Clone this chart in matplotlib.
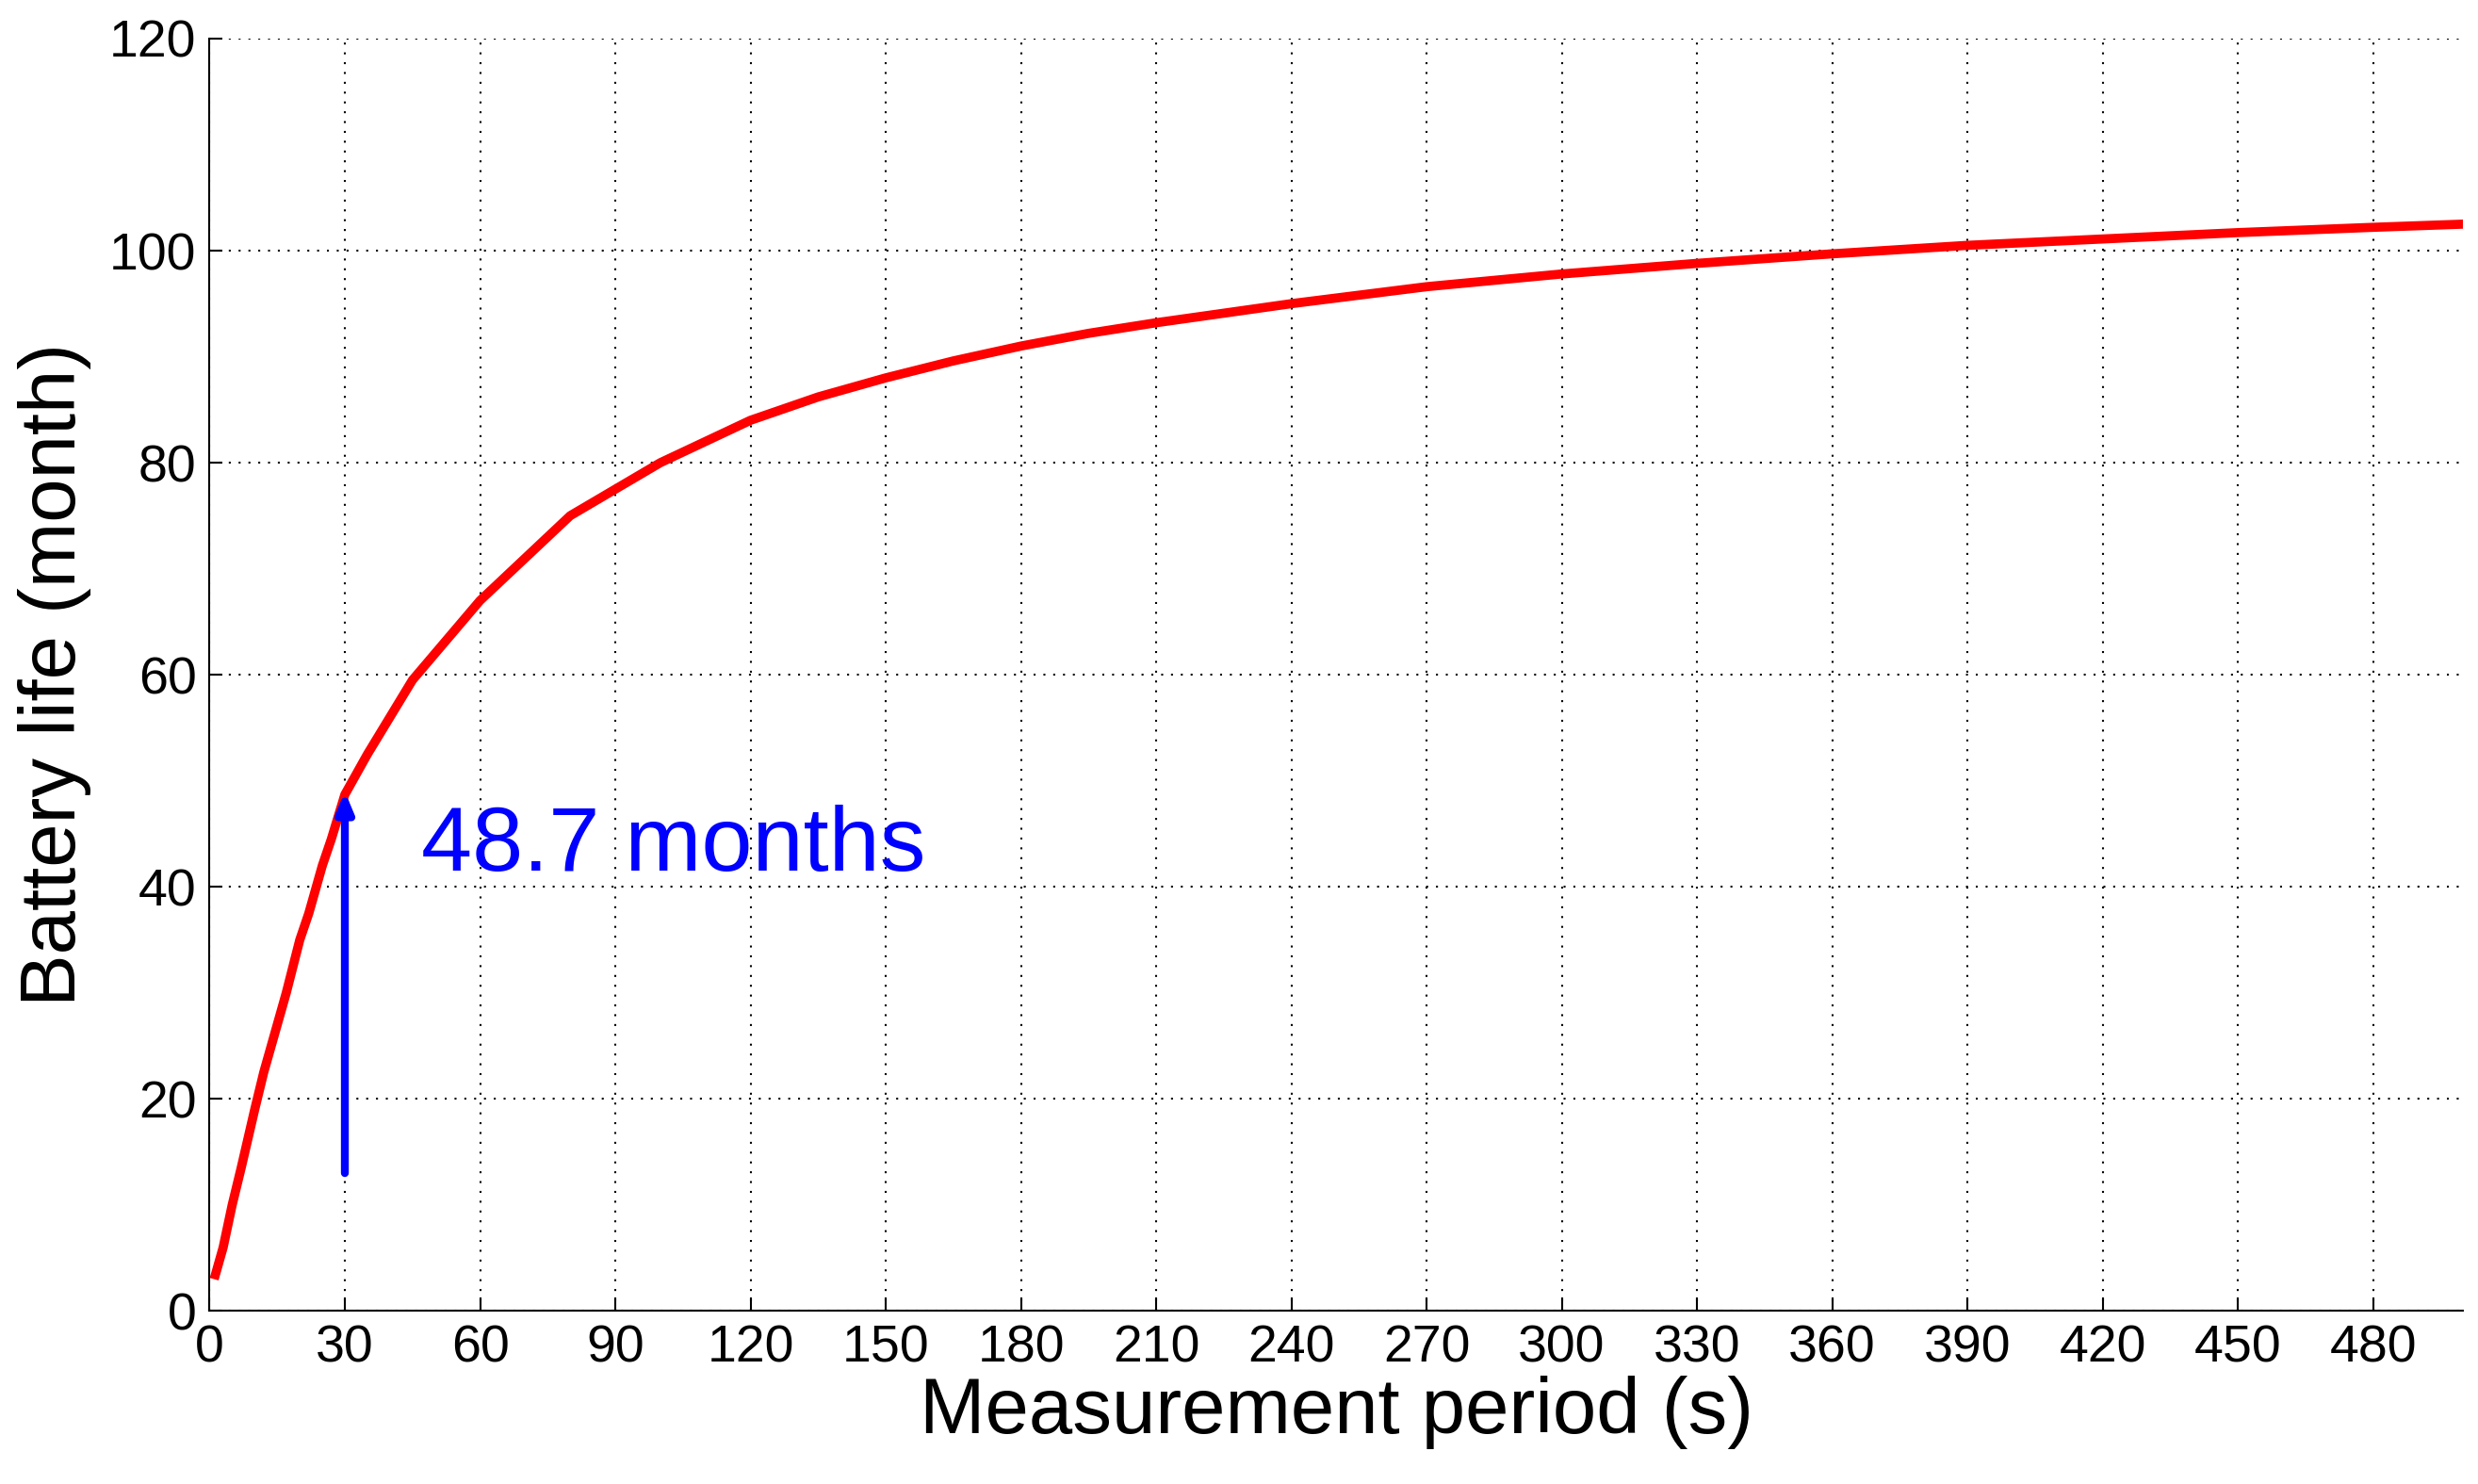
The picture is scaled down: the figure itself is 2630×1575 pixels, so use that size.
import matplotlib
matplotlib.use('Agg')
import matplotlib.pyplot as plt

period = [1, 2, 3, 5, 7, 10, 12, 15, 17, 20, 22, 25, 27, 30, 35, 40, 45, 50, 55,
          60, 65, 70, 75, 80, 90, 100, 110, 120, 135, 150, 165, 180, 195, 210,
          240, 270, 300, 330, 360, 390, 420, 450, 480, 500]
life = [3, 4.5, 6, 10, 13.5, 19, 22.5, 27, 30, 35, 37.5, 42, 44.5, 48.7, 52.5, 56,
        59.5, 62, 64.5, 67, 69, 71, 73, 75, 77.5, 80, 82, 84, 86.2, 88, 89.6, 91,
        92.2, 93.2, 95, 96.6, 97.8, 98.8, 99.7, 100.5, 101.1, 101.7, 102.2, 102.5]
xticks = list(range(0, 481, 30))
yticks = list(range(0, 121, 20))

plt.rcParams['font.family'] = ['Liberation Sans', 'DejaVu Sans']

fig = plt.figure(figsize=(26.3, 15.75), dpi=100)
ax = fig.add_axes([0.0846, 0.1166, 0.9094, 0.8574])

ax.plot(period, life, color='red', linewidth=7, solid_capstyle='butt')
ax.annotate('', xy=(30, 49), xytext=(30, 13),
            arrowprops=dict(arrowstyle='-|>,head_width=0.5,head_length=1.2',
                            color='blue', lw=6, shrinkA=0, shrinkB=0))
ax.text(47, 41.5, '48.7 months', color='blue', fontsize=70)

ax.set_xlim(0, 500)
ax.set_ylim(0, 120)
ax.set_xticks(xticks)
ax.set_yticks(yticks)
ax.grid(True, linestyle=(0, (1, 4)), color='black', linewidth=1.5)
ax.tick_params(direction='in', length=10, width=1.5, labelsize=40, pad=10)
ax.spines['top'].set_visible(False)
ax.spines['right'].set_visible(False)
for s in ['left', 'bottom']:
    ax.spines[s].set_linewidth(1.5)

ax.set_xlabel('Measurement period (s)', fontsize=60, labelpad=2)
ax.set_ylabel('Battery life (month)', fontsize=60, labelpad=14)

fig.savefig('out.png')
